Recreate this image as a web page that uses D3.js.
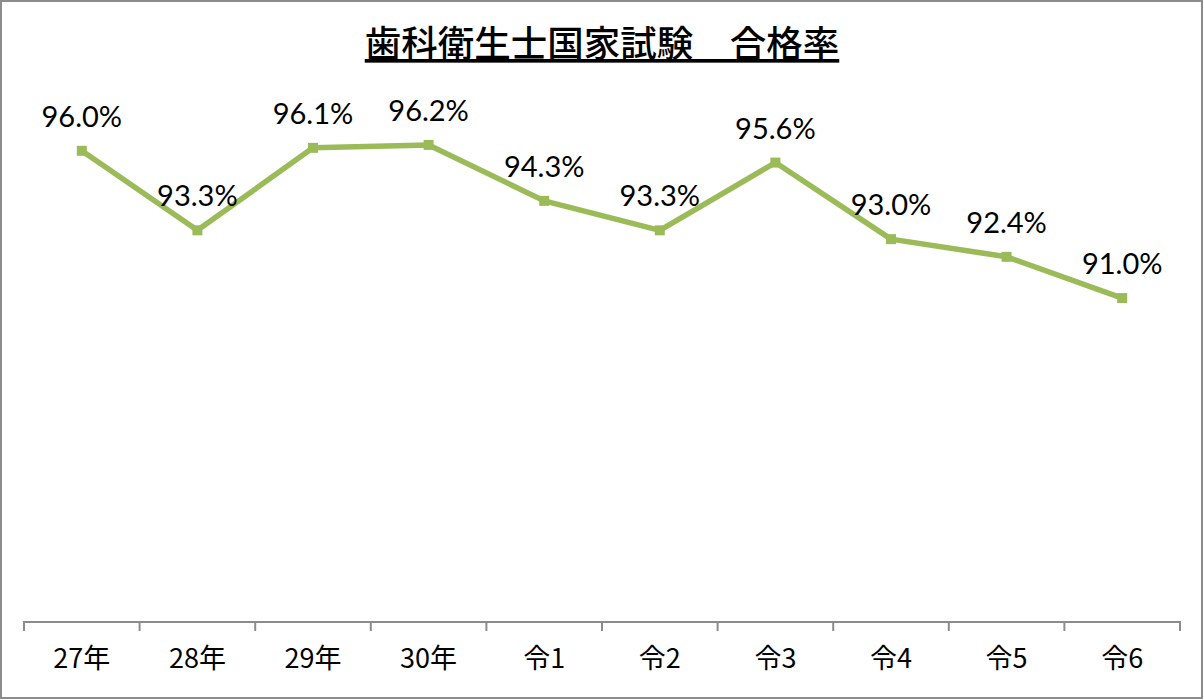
<!DOCTYPE html>
<html>
<head>
<meta charset="utf-8">
<script src="https://cdn.jsdelivr.net/npm/d3@7"></script>
<style>
  body { margin: 0; background: #fff; }
  svg { display: block; }
</style>
</head>
<body>
<script>
// chart data
const years = ["27年", "28年", "29年", "30年", "令1", "令2", "令3", "令4", "令5", "令6"];
const passRates = [96.0, 93.3, 96.1, 96.2, 94.3, 93.3, 95.6, 93.0, 92.4, 91.0];
const chartTitle = "歯科衛生士国家試験　合格率";

const w = 1204, h = 700;
const margin = {top: 33, right: 24, bottom: 78, left: 24};

const svg = d3.select("body").append("svg")
    .attr("width", w)
    .attr("height", h);

// outer frame
svg.append("rect")
    .attr("x", 1).attr("y", 1)
    .attr("width", w - 3).attr("height", h - 3)
    .attr("fill", "#fff")
    .attr("stroke", "#8c8c8c")
    .attr("stroke-width", 2);

const x = d3.scaleBand()
    .domain(years)
    .range([margin.left, w - margin.right]);

const y = d3.scaleLinear()
    .domain([80, 100])
    .range([h - margin.bottom, margin.top]);

// title
svg.append("text")
    .attr("x", w / 2)
    .attr("y", 57)
    .attr("text-anchor", "middle")
    .style("font-family", "'Noto Sans CJK JP', sans-serif")
    .style("font-size", "36.5px")
    .style("font-weight", 500)
    .style("text-decoration", "underline")
    .attr("fill", "#000")
    .text(chartTitle);

// x axis
const xAxis = svg.append("g")
    .attr("transform", "translate(0," + (h - margin.bottom) + ")")
    .call(d3.axisBottom(x).tickSize(0).tickPadding(27));

xAxis.select(".domain").attr("stroke", "#8c8c8c").attr("stroke-width", 2)
    .attr("d", "M" + margin.left + ",9V0H" + (w - margin.right) + "V9");
xAxis.selectAll(".tick text")
    .style("font-family", "'Noto Sans CJK JP', sans-serif")
    .style("font-size", "27px")
    .attr("fill", "#000");

// tick marks between categories
svg.append("g")
    .selectAll("line")
    .data(years.slice(1))
    .join("line")
    .attr("x1", d => x(d)).attr("x2", d => x(d))
    .attr("y1", h - margin.bottom).attr("y2", h - margin.bottom + 9)
    .attr("stroke", "#8c8c8c")
    .attr("stroke-width", 2);

const pts = years.map((d, i) => ({year: d, val: passRates[i]}));
const cx = d => x(d.year) + x.bandwidth() / 2;

// line
svg.append("path")
    .datum(pts)
    .attr("fill", "none")
    .attr("stroke", "#9bbb59")
    .attr("stroke-width", 5.5)
    .attr("stroke-linejoin", "round")
    .attr("d", d3.line().x(cx).y(d => y(d.val)));

// markers
svg.append("g")
    .selectAll("rect")
    .data(pts)
    .join("rect")
    .attr("x", d => cx(d) - 5)
    .attr("y", d => y(d.val) - 5)
    .attr("width", 10).attr("height", 10)
    .attr("fill", "#9bbb59");

// labels
svg.append("g")
    .selectAll("text")
    .data(pts)
    .join("text")
    .attr("x", cx)
    .attr("y", d => y(d.val) - 24)
    .attr("text-anchor", "middle")
    .style("font-family", "Lato, 'Open Sans', sans-serif")
    .style("font-size", "29px")
    .attr("fill", "#000")
    .text(d => d.val.toFixed(1) + "%");
</script>
</body>
</html>
